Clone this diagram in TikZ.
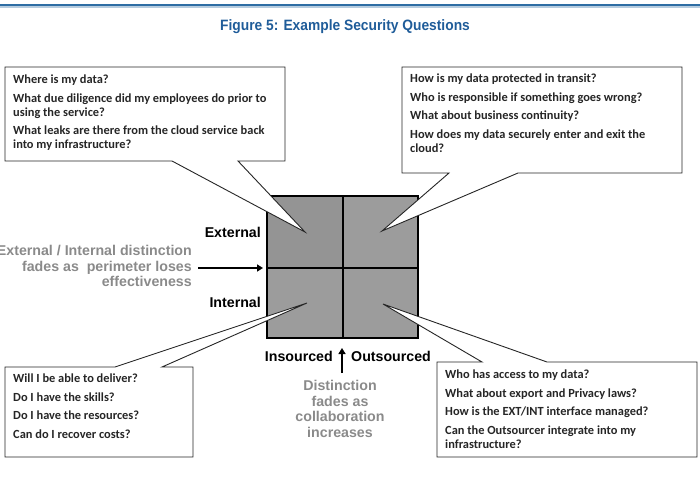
\documentclass[tikz,border=0pt]{standalone}
\usepackage{fontspec}
\setmainfont{Liberation Sans}
\newfontfamily\callfont{Carlito}
\usetikzlibrary{arrows.meta}
\definecolor{titleblue}{HTML}{1F5C99}
\definecolor{lineblue}{HTML}{2E6DA4}
\definecolor{sqgray}{HTML}{9C9C9C}
\definecolor{sqdark}{HTML}{949494}
\definecolor{fadegray}{HTML}{8A8A8A}
\definecolor{calltext}{HTML}{262626}
\tikzset{
  callout/.style={draw=black!85, line width=0.9pt, fill=white, line join=miter},
  calltxt/.style={anchor=north west, align=left, inner sep=0pt, text=calltext,
    font=\callfont\bfseries\fontsize{12.4}{14}\selectfont},
  lab/.style={font=\bfseries\fontsize{14.2}{15}\selectfont, inner sep=0pt},
  fade/.style={font=\bfseries\fontsize{14.2}{15.5}\selectfont, text=fadegray, inner sep=0pt},
  bigarrow/.style={line width=2pt, -{Triangle[length=6pt,width=7pt]}},
}
\begin{document}
\begin{tikzpicture}[x=1pt,y=-1pt]
\useasboundingbox (0,0) rectangle (700,476);
% top rule and title
\fill[lineblue!35] (0,5.5) rectangle (700,8);
\draw[lineblue, line width=2pt] (0,5) -- (700,5);
\node[text=titleblue, font=\bfseries\fontsize{15}{16}\selectfont] (title) at (345,27) {\scalebox{0.92}[1]{Figure 5: Example Security Questions}};

% quadrant square
\fill[sqgray] (267,196) rectangle (418,338);
\fill[sqdark] (267,196) rectangle (343,268);
\draw[black, line width=1.1pt] (267,196) rectangle (418,338);
\draw[black, line width=1.1pt] (343,196) -- (343,338);
\draw[black, line width=1.1pt] (267,268) -- (418,268);
\coordinate (tl) at (305,232);
\coordinate (tr) at (382,231);
\coordinate (bl) at (307,303);
\coordinate (br) at (383,304);
\coordinate (sqleft) at (263,268);
\coordinate (sqbottom) at (342,348);

% callouts
\draw[callout] (5,67) -- (285,67) -- (285,161) -- (238,161) -- (tl) -- (172,161) -- (5,161) -- cycle;
\draw[callout] (402,67) -- (682,67) -- (682,173) -- (518,173) -- (tr) -- (449,173) -- (402,173) -- cycle;
\draw[callout] (5,367) -- (115,367) -- (bl) -- (162,367) -- (193,367) -- (193,457) -- (5,457) -- cycle;
\draw[callout] (437,362) -- (482,362) -- (br) -- (547,362) -- (697,362) -- (697,457) -- (437,457) -- cycle;

\node[calltxt] (qtl) at (13,75) {Where is my data?\\[4.5pt]
What due diligence did my employees do prior to\\ using the service?\\[4.5pt]
What leaks are there from the cloud service back\\ into my infrastructure?};
\node[calltxt] (qtr) at (410,74) {How is my data protected in transit?\\[4.5pt]
Who is responsible if something goes wrong?\\[4.5pt]
What about business continuity?\\[4.5pt]
How does my data securely enter and exit the\\ cloud?};
\node[calltxt] (qbl) at (13,374) {Will I be able to deliver?\\[4.5pt]
Do I have the skills?\\[4.5pt]
Do I have the resources?\\[4.5pt]
Can do I recover costs?};
\node[calltxt] (qbr) at (445,370) {Who has access to my data?\\[4.5pt]
What about export and Privacy laws?\\[4.5pt]
How is the EXT/INT interface managed?\\[4.5pt]
Can the Outsourcer integrate into my\\ infrastructure?};

% labels
\node[lab, anchor=east] (ext) at (261,232) {External};
\node[lab, anchor=east] (int) at (261,302) {Internal};
\node[fade, anchor=east, align=right] (fadeleft) at (192,266) {External / Internal distinction\\ fades as\ \ perimeter loses\\ effectiveness};
\coordinate (arrL) at (198,268);
\draw[bigarrow] (arrL) -- (sqleft);

\node[lab, anchor=east] (ins) at (333,356) {Insourced};
\node[lab, anchor=west] (outs) at (351,356) {Outsourced};
\coordinate (arrB) at (342,373);
\draw[bigarrow] (arrB) -- (sqbottom);
\node[fade, align=center] (fadebottom) at (340,409) {Distinction\\ fades as\\ collaboration\\ increases};
\end{tikzpicture}
\end{document}
